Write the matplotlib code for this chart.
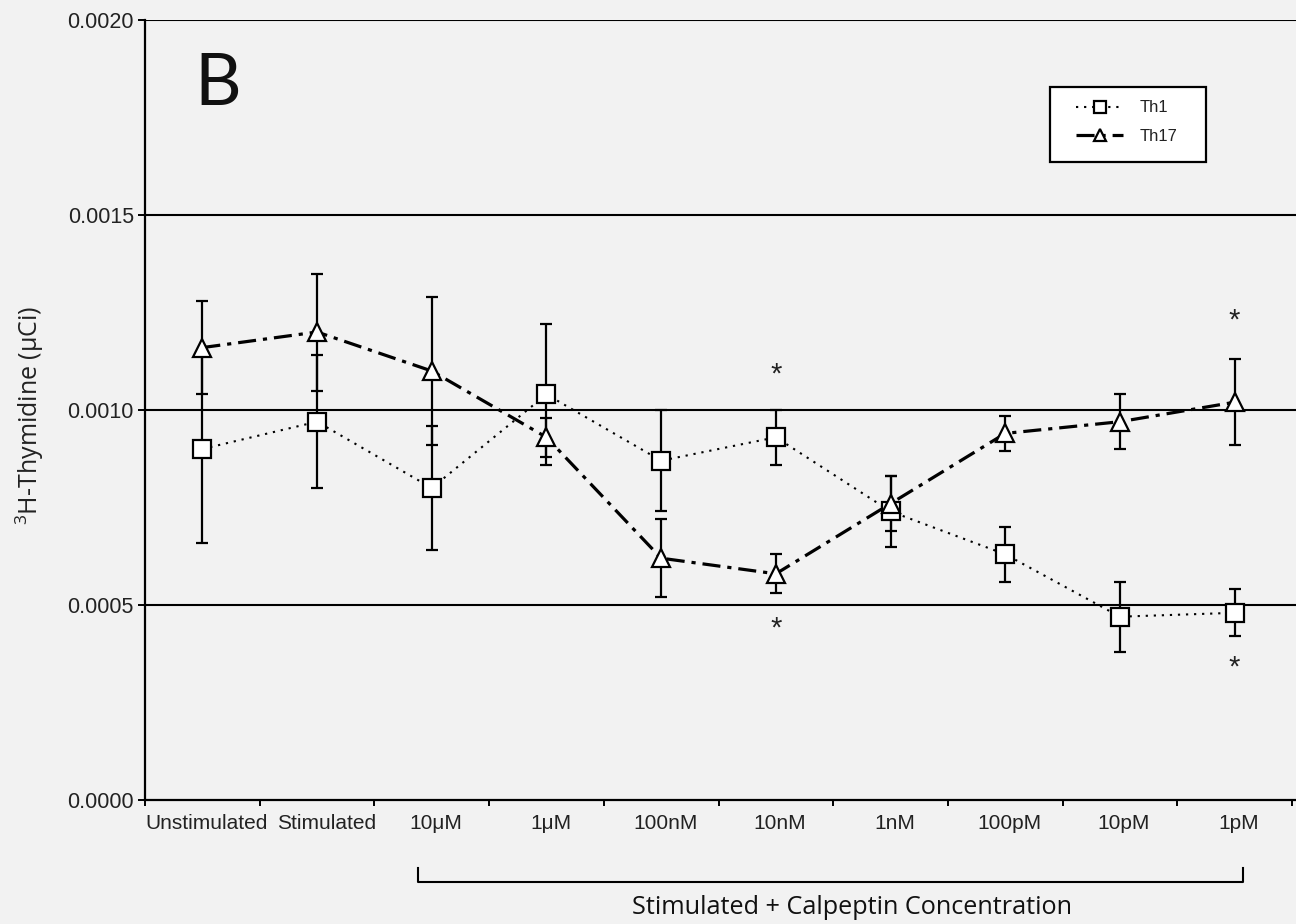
import matplotlib
matplotlib.use("Agg")
import matplotlib.pyplot as plt
from matplotlib.lines import Line2D
from matplotlib.patches import Rectangle
from matplotlib.transforms import blended_transform_factory, ScaledTranslation

# ---- data -------------------------------------------------------------
categories = ["Unstimulated", "Stimulated", "10μM", "1μM", "100nM",
              "10nM", "1nM", "100pM", "10pM", "1pM"]

th1_mean = [0.00090, 0.00097, 0.00080, 0.00104, 0.00087,
            0.00093, 0.00074, 0.00063, 0.00047, 0.00048]
th1_err = [0.00024, 0.00017, 0.00016, 0.00018, 0.00013,
           0.00007, 0.00009, 0.00007, 0.00009, 0.00006]

th17_mean = [0.00116, 0.00120, 0.00110, 0.00093, 0.00062,
             0.00058, 0.00076, 0.00094, 0.00097, 0.00102]
th17_err = [0.00012, 0.00015, 0.00019, 0.00005, 0.00010,
            0.00005, 0.00007, 0.000045, 0.00007, 0.00011]

# significance marks (category, y position)
sig_categories = ["10nM", "10nM", "1pM", "1pM"]
sig_y = [0.00109, 0.00044, 0.00123, 0.00034]

y_ticks = [0.0000, 0.0005, 0.0010, 0.0015, 0.0020]

# ---- styling ----------------------------------------------------------
plt.rcParams["lines.scale_dashes"] = False
plt.rcParams["mathtext.default"] = "regular"
BG = "#f2f2f2"
TICK_FONT = "Liberation Sans"
TITLE_FONT = "Open Sans"

W, H = 1296, 924
fig = plt.figure(figsize=(W / 100, H / 100), dpi=100, facecolor=BG)
left_px, right_px, top_px, bottom_px = 145, 1296, 20, 800
ax = fig.add_axes([left_px / W, 1 - bottom_px / H,
                   (right_px - left_px) / W, (bottom_px - top_px) / H])
ax.set_facecolor(BG)

x = list(range(len(categories)))
cat_width_px = 114.7
ax.set_xlim(-0.5, -0.5 + (right_px - left_px) / cat_width_px)
ax.set_ylim(0, 0.0020)

# horizontal reference lines
for yv in y_ticks[1:]:
    ax.axhline(yv, color="black", lw=1.5, zorder=1)

th1_style = dict(color="black", lw=1.5, linestyle=(0, (1.6, 4.2)))
th17_style = dict(color="black", lw=2.3, linestyle=(0, (13, 5, 3, 5)))
mk = dict(markersize=12.5, markerfacecolor="white",
          markeredgecolor="black", markeredgewidth=1.6)

# error bars
ax.errorbar(x, th1_mean, yerr=th1_err, fmt="none", ecolor="black",
            elinewidth=1.6, capsize=4.5, capthick=1.6, zorder=3)
ax.errorbar(x, th17_mean, yerr=th17_err, fmt="none", ecolor="black",
            elinewidth=1.6, capsize=4.5, capthick=1.6, zorder=3)

# connecting lines
ax.plot(x, th1_mean, zorder=2, **th1_style)
ax.plot(x, th17_mean, zorder=2, **th17_style)

# markers
ax.plot(x, th1_mean, linestyle="none", marker="s", zorder=4, **mk)
ax.plot(x, th17_mean, linestyle="none", marker="^", zorder=4, **mk)

# significance asterisks
for cat, yv in zip(sig_categories, sig_y):
    ax.text(categories.index(cat), yv, "*", ha="center", va="center",
            fontsize=21, family=TICK_FONT, color="#222222")

# axes appearance
for s in ("top", "right"):
    ax.spines[s].set_visible(False)
for s in ("left", "bottom"):
    ax.spines[s].set_linewidth(1.6)
    ax.spines[s].set_zorder(5)

ax.set_yticks(y_ticks)
ax.set_yticklabels([f"{v:.4f}" for v in y_ticks])
ax.tick_params(axis="y", direction="out", length=5, width=1.4, pad=3,
               labelsize=15.5)
for lbl in ax.get_yticklabels():
    lbl.set_family(TICK_FONT)
    lbl.set_color("#222222")

# x: boundary ticks, labels centred on categories
ax.set_xticks([i - 0.5 for i in range(len(categories) + 1)])
ax.set_xticklabels([])
ax.set_xticks(x, minor=True)
ax.set_xticklabels(categories, minor=True)
ax.tick_params(axis="x", which="major", direction="out", length=4,
               width=1.4)
ax.tick_params(axis="x", which="minor", length=0, pad=10, labelsize=15)
nudge = ScaledTranslation(4 / 100, 0, fig.dpi_scale_trans)
for i, lbl in enumerate(ax.get_xticklabels(minor=True)):
    lbl.set_family(TICK_FONT)
    lbl.set_color("#222222")
    lbl.set_transform(lbl.get_transform() + nudge)
# a little extra room between the two long leading labels
ax.get_xticklabels(minor=True)[1].set_transform(
    ax.get_xticklabels(minor=True)[1].get_transform()
    + ScaledTranslation(6 / 100, 0, fig.dpi_scale_trans))

# bracket beneath the calpeptin concentrations
trans = blended_transform_factory(ax.transData, ax.transAxes)
b0 = categories.index("10μM") - 0.12
b1 = categories.index("1pM") + 0.07
y_lo = (bottom_px - 882) / (bottom_px - top_px)
y_hi = (bottom_px - 868) / (bottom_px - top_px)
ax.plot([b0, b0, b1, b1], [y_hi, y_lo, y_lo, y_hi], color="black",
        lw=1.5, transform=trans, clip_on=False)

fig.text(852 / W, 1 - 908 / H, "Stimulated + Calpeptin Concentration",
         ha="center", va="center", fontsize=18.2, family=TITLE_FONT,
         color="#111111")

fig.text(30 / W, 1 - 415 / H, "$^{3}$H-Thymidine (μCi)", rotation=90,
         ha="center", va="center", fontsize=18, family=TITLE_FONT,
         color="#222222")

fig.text(218 / W, 1 - 105 / H, "B", ha="center", va="baseline",
         fontsize=52, family="Lato", color="#111111")

# legend box
box = Rectangle((1050 / W, 1 - 162 / H), 156 / W, 75 / H,
                transform=fig.transFigure, facecolor="white",
                edgecolor="black", lw=1.6, zorder=6)
fig.add_artist(box)
handles = [
    Line2D([], [], marker="s", markersize=8, markerfacecolor="white",
           markeredgecolor="black", markeredgewidth=1.6, **th1_style),
    Line2D([], [], marker="^", markersize=8, markerfacecolor="white",
           markeredgecolor="black", markeredgewidth=1.6, **th17_style),
]
leg = fig.legend(handles, ["Th1", "Th17"], loc="upper left",
                 bbox_to_anchor=(1068 / W, 1 - 92 / H),
                 bbox_transform=fig.transFigure, frameon=False,
                 prop={"family": TICK_FONT, "size": 12},
                 handlelength=2.8, handletextpad=1.0, labelspacing=0.8,
                 borderpad=0.0, numpoints=1)
leg.set_zorder(7)
for t in leg.get_texts():
    t.set_color("#222222")

fig.savefig("out.png", dpi=100, facecolor=BG)
